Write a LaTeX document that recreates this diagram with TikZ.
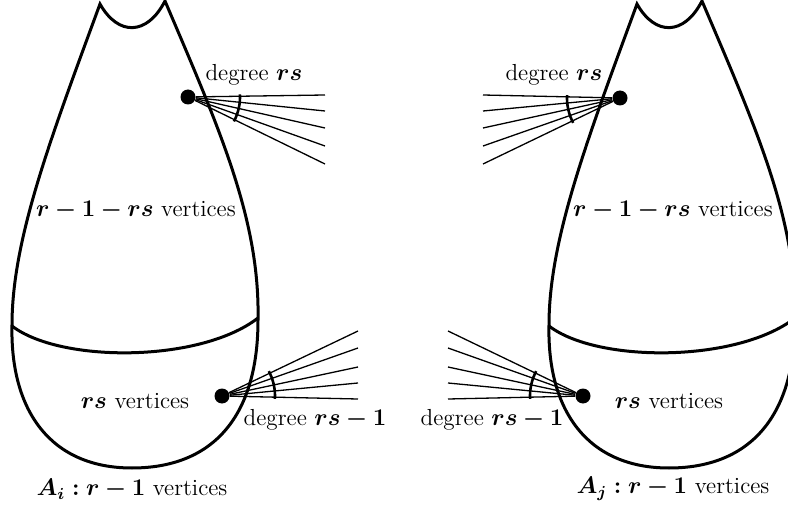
\documentclass[tikz,border=0pt]{standalone}
\usepackage{bm}
\begin{document}
\begin{tikzpicture}[x=0.5pt, y=-0.5pt,
    every node/.style={font=\fontsize{11.6}{14}\selectfont},
    outline/.style={line width=1.5pt},
    vdot/.style={circle, fill=black, inner sep=0pt, minimum size=7.5pt},
    fan/.style={line width=0.65pt},
    arcmark/.style={line width=1.3pt}]
    \useasboundingbox (0,0) rectangle (788,508);

    % the two parts (same outline, the second one shifted)
    \foreach \dx in {0,537} {
      \begin{scope}[shift={(\dx,0)}]
        \draw[outline] (100,4) .. controls (118,36) and (147,36) .. (165,1)
            .. controls (220,130) and (260,220) .. (258,320)
            .. controls (258,420) and (210,468) .. (132,468)
            .. controls (50,468) and (10,410) .. (12,325)
            .. controls (12,240) and (50,140) .. (100,4) -- cycle;
        \draw[outline] (12,326) .. controls (60,363) and (200,363) .. (258,318);
      \end{scope}
    }

    % A_i: upper vertex
    \node[vdot] (upI) at (188,97) {};
    \foreach \y [count=\k] in {95,111,128,146,164} {
      \coordinate (upIe\k) at (325,\y);
      \draw[fan] (upI) -- (upIe\k);
    }
    \draw[arcmark] (upI.center) ++(-3:52) arc[start angle=-3, end angle=28, radius=52];
    \node (degUpI) at (254,75) {degree $\bm{rs}$};

    % A_i: lower vertex
    \node[vdot] (loI) at (222,396) {};
    \foreach \y [count=\k] in {331,348,367,383,399} {
      \coordinate (loIe\k) at (358,\y);
      \draw[fan] (loI) -- (loIe\k);
    }
    \draw[arcmark] (loI.center) ++(-28:53) arc[start angle=-28, end angle=3, radius=53];
    \node (degLoI) at (315,420) {degree $\bm{rs-1}$};

    % A_i: labels
    \node (topI) at (136,210) {$\bm{r-1-rs}$ vertices};
    \node (botI) at (135,401) {$\bm{rs}$ vertices};
    \node (nameI) at (132,489) {$\bm{A_i:r-1}$ vertices};

    % A_j: upper vertex
    \node[vdot] (upJ) at (620,98) {};
    \foreach \y [count=\k] in {95,111,128,146,164} {
      \coordinate (upJe\k) at (483,\y);
      \draw[fan] (upJ) -- (upJe\k);
    }
    \draw[arcmark] (upJ.center) ++(152:53) arc[start angle=152, end angle=183, radius=53];
    \node (degUpJ) at (554,75) {degree $\bm{rs}$};

    % A_j: lower vertex
    \node[vdot] (loJ) at (583,396) {};
    \foreach \y [count=\k] in {331,348,367,383,399} {
      \coordinate (loJe\k) at (448,\y);
      \draw[fan] (loJ) -- (loJe\k);
    }
    \draw[arcmark] (loJ.center) ++(177:53) arc[start angle=177, end angle=208, radius=53];
    \node (degLoJ) at (492,420) {degree $\bm{rs-1}$};

    % A_j: labels
    \node (topJ) at (673,210) {$\bm{r-1-rs}$ vertices};
    \node (botJ) at (669,401) {$\bm{rs}$ vertices};
    \node (nameJ) at (673,489) {$\bm{A_j:r-1}$ vertices};
\end{tikzpicture}
\end{document}
